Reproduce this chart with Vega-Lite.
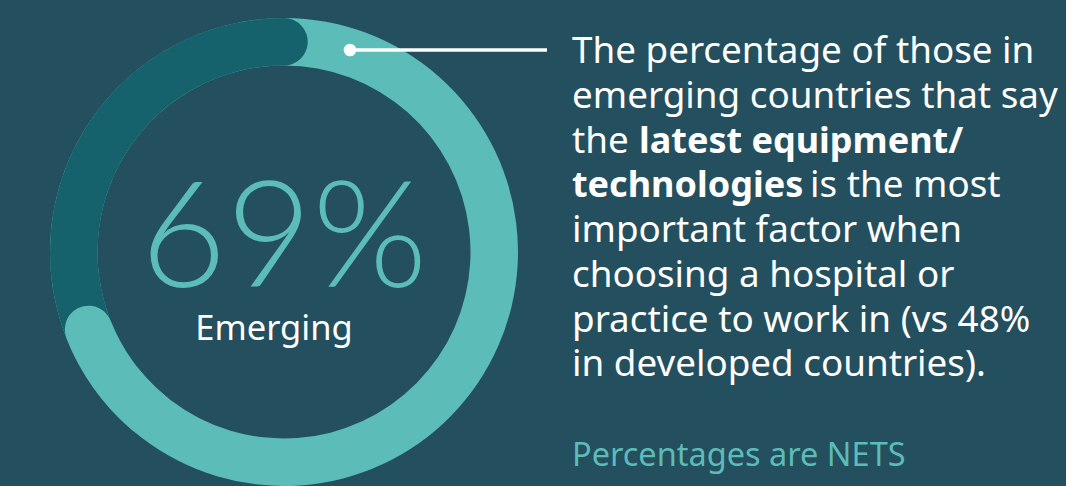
{
  "$schema": "https://vega.github.io/schema/vega-lite/v6.json",
  "background": "#234f5e",
  "padding": 0,
  "spacing": 0,
  "config": {"view": {"stroke": null}, "concat": {"spacing": 0}},
  "datasets": {
    "shares": [
      {"group": "Emerging", "start": 0, "end": 0.69},
      {"group": "Other", "start": 0.69, "end": 1}
    ],
    "lines": [
      {"line": 1, "seg": 1, "weight": "regular", "kind": "body", "text": "The percentage of those in"},
      {"line": 2, "seg": 1, "weight": "regular", "kind": "body", "text": "emerging countries that say"},
      {"line": 3, "seg": 1, "weight": "regular", "kind": "body", "text": "the"},
      {"line": 3, "seg": 2, "weight": "bold", "kind": "body", "text": "latest equipment/"},
      {"line": 4, "seg": 1, "weight": "bold", "kind": "body", "text": "technologies"},
      {"line": 4, "seg": 2, "weight": "regular", "kind": "body", "text": "is the most"},
      {"line": 5, "seg": 1, "weight": "regular", "kind": "body", "text": "important factor when"},
      {"line": 6, "seg": 1, "weight": "regular", "kind": "body", "text": "choosing a hospital or"},
      {"line": 7, "seg": 1, "weight": "regular", "kind": "body", "text": "practice to work in (vs 48%"},
      {"line": 8, "seg": 1, "weight": "regular", "kind": "body", "text": "in developed countries)."},
      {"line": 10, "seg": 1, "weight": "regular", "kind": "note", "text": "Percentages are NETS"}
    ]
  },
  "hconcat": [
    {
      "width": 568,
      "height": 486,
      "data": {"name": "shares"},
      "layer": [
        {
          "mark": {"type": "arc", "radius": 234, "radius2": 186.5, "color": "#5cbcb8", "yOffset": 9},
          "encoding": {
            "theta": {"field": "start", "type": "quantitative", "stack": null, "scale": {"domain": [0, 1], "range": [0, 6.283185307179586]}},
            "theta2": {"field": "end"}
          }
        },
        {
          "transform": [{"filter": "datum.group === 'Other'"}],
          "mark": {"type": "arc", "radius": 234, "radius2": 186.5, "color": "#15616c", "cornerRadius": 23.75, "thetaOffset": -0.4, "theta2Offset": 0.113, "yOffset": 9},
          "encoding": {
            "theta": {"field": "start", "type": "quantitative", "stack": null, "scale": {"domain": [0, 1], "range": [0, 6.283185307179586]}},
            "theta2": {"field": "end"}
          }
        },
        {
          "transform": [{"filter": "datum.group === 'Emerging'"}],
          "mark": {"type": "arc", "radius": 234, "radius2": 186.5, "color": "#5cbcb8", "cornerRadius": 23.75, "thetaOffset": -0.6, "theta2Offset": 0.113, "yOffset": 9},
          "encoding": {
            "theta": {"field": "end", "type": "quantitative", "stack": null, "scale": {"domain": [0, 1], "range": [0, 6.283185307179586]}},
            "theta2": {"field": "end"}
          }
        },
        {
          "transform": [{"filter": "datum.group === 'Emerging'"}],
          "mark": {"type": "text", "font": "Lato", "fontWeight": 300, "fontSize": 148, "color": "#5cbcb8", "align": "center", "baseline": "alphabetic", "dy": 44},
          "encoding": {"text": {"field": "end", "type": "quantitative", "format": ".0%"}}
        },
        {
          "transform": [{"filter": "datum.group === 'Emerging'"}],
          "mark": {"type": "text", "font": "Noto Sans", "fontSize": 34.5, "color": "#ffffff", "align": "center", "baseline": "alphabetic", "dy": 97, "dx": -10},
          "encoding": {"text": {"field": "group", "type": "nominal"}}
        },
        {
          "transform": [{"filter": "datum.group === 'Emerging'"}],
          "mark": {"type": "rule", "color": "#ffffff", "strokeWidth": 3.5},
          "encoding": {"x": {"value": 350}, "x2": {"value": 547}, "y": {"value": 50}}
        },
        {
          "transform": [{"filter": "datum.group === 'Emerging'"}],
          "mark": {"type": "point", "filled": true, "color": "#ffffff", "opacity": 1},
          "encoding": {"x": {"value": 350}, "y": {"value": 50}, "size": {"value": 160}}
        }
      ]
    },
    {
      "width": 498,
      "height": 486,
      "data": {"name": "lines"},
      "layer": [
        {
          "transform": [{"filter": "datum.kind === 'body' && datum.seg === 1 && datum.weight === 'regular'"}],
          "mark": {"type": "text", "font": "Noto Sans", "fontSize": 36.8, "color": "#ffffff", "align": "left", "baseline": "alphabetic", "x": 4},
          "encoding": {
            "y": {"field": "line", "type": "quantitative", "scale": {"domain": [1, 10], "range": [63, 466]}, "axis": null},
            "text": {"field": "text", "type": "nominal"}
          }
        },
        {
          "transform": [{"filter": "datum.kind === 'body' && datum.seg === 1 && datum.weight === 'bold'"}],
          "mark": {"type": "text", "font": "Noto Sans", "fontWeight": "bold", "fontSize": 36, "color": "#ffffff", "align": "left", "baseline": "alphabetic", "x": 4},
          "encoding": {
            "y": {"field": "line", "type": "quantitative", "scale": {"domain": [1, 10], "range": [63, 466]}, "axis": null},
            "text": {"field": "text", "type": "nominal"}
          }
        },
        {
          "transform": [{"filter": "datum.kind === 'body' && datum.seg === 2 && datum.weight === 'bold'"}],
          "mark": {"type": "text", "font": "Noto Sans", "fontWeight": "bold", "fontSize": 36, "color": "#ffffff", "align": "left", "baseline": "alphabetic", "x": 4, "dx": 67},
          "encoding": {
            "y": {"field": "line", "type": "quantitative", "scale": {"domain": [1, 10], "range": [63, 466]}, "axis": null},
            "text": {"field": "text", "type": "nominal"}
          }
        },
        {
          "transform": [{"filter": "datum.kind === 'body' && datum.seg === 2 && datum.weight === 'regular'"}],
          "mark": {"type": "text", "font": "Noto Sans", "fontSize": 36.8, "color": "#ffffff", "align": "left", "baseline": "alphabetic", "x": 4, "dx": 238},
          "encoding": {
            "y": {"field": "line", "type": "quantitative", "scale": {"domain": [1, 10], "range": [63, 466]}, "axis": null},
            "text": {"field": "text", "type": "nominal"}
          }
        },
        {
          "transform": [{"filter": "datum.kind === 'note'"}],
          "mark": {"type": "text", "font": "Noto Sans", "fontSize": 32.5, "color": "#5cbcb8", "align": "left", "baseline": "alphabetic", "x": 4},
          "encoding": {
            "y": {"field": "line", "type": "quantitative", "scale": {"domain": [1, 10], "range": [63, 466]}, "axis": null},
            "text": {"field": "text", "type": "nominal"}
          }
        }
      ]
    }
  ]
}
